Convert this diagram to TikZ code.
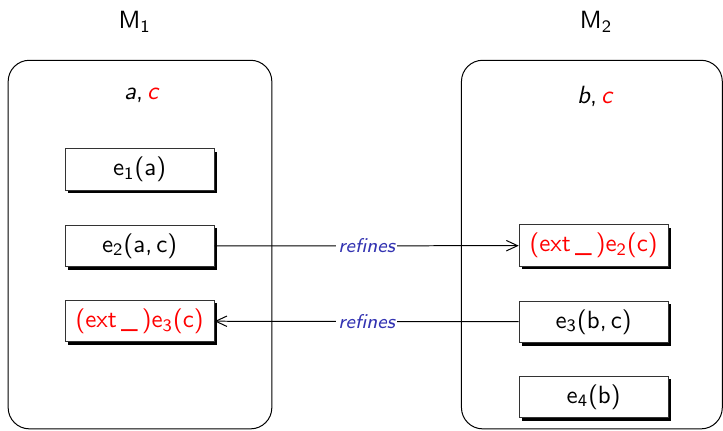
\documentclass[tikz,border=0pt]{standalone}
\usetikzlibrary{shadows, arrows.meta}
\definecolor{struktur}{rgb}{0.2,0.2,0.7}
\newcommand{\sub}[1]{\textsubscript{#1}}

\tikzset{
    mach/.style={draw, rounded corners=0.3cm, minimum width=3.72cm, minimum height=5.2cm},
    evt/.style={draw=black!80, fill=white, minimum width=2.1cm, minimum height=0.55cm,
        drop shadow={shadow xshift=1.2pt, shadow yshift=-1.2pt, opacity=1, fill=black}},
    refines/.style={fill=white, inner sep=1pt, font=\sffamily\footnotesize\itshape, text=struktur},
    >={Straight Barb[length=4.5pt, width=4.2pt]}
}

\begin{document}
\begin{tikzpicture}[font=\sffamily]
    \useasboundingbox (0,0) rectangle (10.2,-6.08);
    % the two machines
    \path node (M1) at (1.9,-0.31) {M\sub{1}}
        node[mach] (box1) at (1.975,-3.45) {}
        node (var1) at (2.0,-1.34) {\textit{a},\,\textcolor{red}{\textit{c}}}
        node (M2) at (8.41,-0.31) {M\sub{2}}
        node[mach, minimum width=3.68cm] (box2) at (8.35,-3.45) {}
        node (var2) at (8.4,-1.36) {\textit{b},\,\textcolor{red}{\textit{c}}};
    % events of M1
    \path node[evt] (e1) at (1.97,-2.39) {e\sub{1}(a)}
        node[evt] (e2) at (1.97,-3.47) {e\sub{2}(a,\,c)}
        node[evt, text=red] (x3) at (1.97,-4.53) {(ext\,\_\,)e\sub{3}(c)};
    % events of M2
    \path node[evt, text=red] (x2) at (8.375,-3.465) {(ext\,\_\,)e\sub{2}(c)}
        node[evt] (e3) at (8.375,-4.54) {e\sub{3}(b,\,c)}
        node[evt] (e4) at (8.375,-5.6) {e\sub{4}(b)};
    \draw[->] (e2) -- node[refines] {refines} (x2);
    \draw[->] (e3) -- node[refines] {refines} (x3);
\end{tikzpicture}
\end{document}
